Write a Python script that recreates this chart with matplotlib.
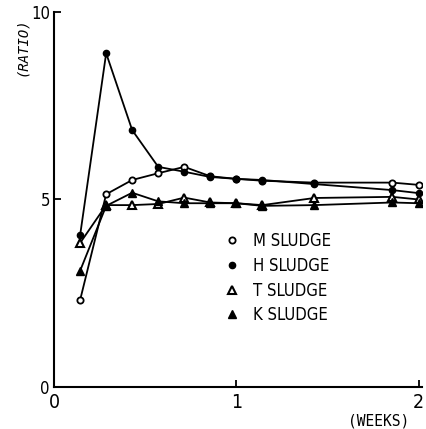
import matplotlib
matplotlib.use("Agg")
import matplotlib.pyplot as plt

plt.rcParams['font.family'] = ['DejaVu Sans']
plt.rcParams['font.stretch'] = 'condensed'

# sampling times (days converted to weeks)
weeks = [1/7, 2/7, 3/7, 4/7, 5/7, 6/7, 1.0, 8/7, 10/7, 13/7, 2.0]

m_sludge = [2.32, 5.14, 5.52, 5.70, 5.87, 5.62, 5.55, 5.50, 5.45, 5.45, 5.39]
h_sludge = [4.05, 8.90, 6.85, 5.87, 5.74, 5.60, 5.55, 5.52, 5.41, 5.25, 5.17]
t_sludge = [3.84, 4.85, 4.85, 4.88, 5.05, 4.92, 4.90, 4.85, 5.04, 5.07, 5.00]
k_sludge = [3.10, 4.83, 5.18, 4.95, 4.90, 4.90, 4.90, 4.83, 4.85, 4.92, 4.90]

fig = plt.figure(figsize=(4.26, 4.29), dpi=100)
ax = fig.add_axes([0.127, 0.098, 0.864, 0.874])

ax.plot(weeks, m_sludge, color='black', lw=1.3, marker='o', ms=4.5,
        mfc='white', mew=1.3, label='M SLUDGE')
ax.plot(weeks, h_sludge, color='black', lw=1.3, marker='o', ms=4.5,
        mfc='black', label='H SLUDGE')
ax.plot(weeks, t_sludge, color='black', lw=1.3, marker='^', ms=6,
        mfc='white', mew=1.5, label='T SLUDGE')
ax.plot(weeks, k_sludge, color='black', lw=1.3, marker='^', ms=6,
        mfc='black', label='K SLUDGE')

ax.set_xlim(0, 2.02)
ax.set_ylim(0, 10)
ax.spines['top'].set_visible(False)
ax.spines['right'].set_visible(False)
ax.spines['left'].set_linewidth(1.5)
ax.spines['bottom'].set_linewidth(1.5)

ax.set_xticks([0, 1, 2])
ax.set_yticks([0, 5, 10])
ax.tick_params(direction='in', length=5, width=1.3)
ax.tick_params(axis='x', pad=4, labelsize=14)
ax.tick_params(axis='y', pad=3, labelsize=12)

ax.text(1.78, -0.7, '(WEEKS)', ha='center', va='top', fontsize=10.5,
        family='DejaVu Sans Mono')
ax.text(-0.175, 9.85, '(RATIO)', ha='center', va='top', fontsize=10,
        rotation=90, style='italic', family='DejaVu Sans Mono')

ax.legend(loc='upper left', bbox_to_anchor=(0.46, 0.435), frameon=False,
          handlelength=0, handletextpad=1.3, labelspacing=0.4,
          fontsize=12, borderpad=0)

fig.savefig('out.png', dpi=100)
